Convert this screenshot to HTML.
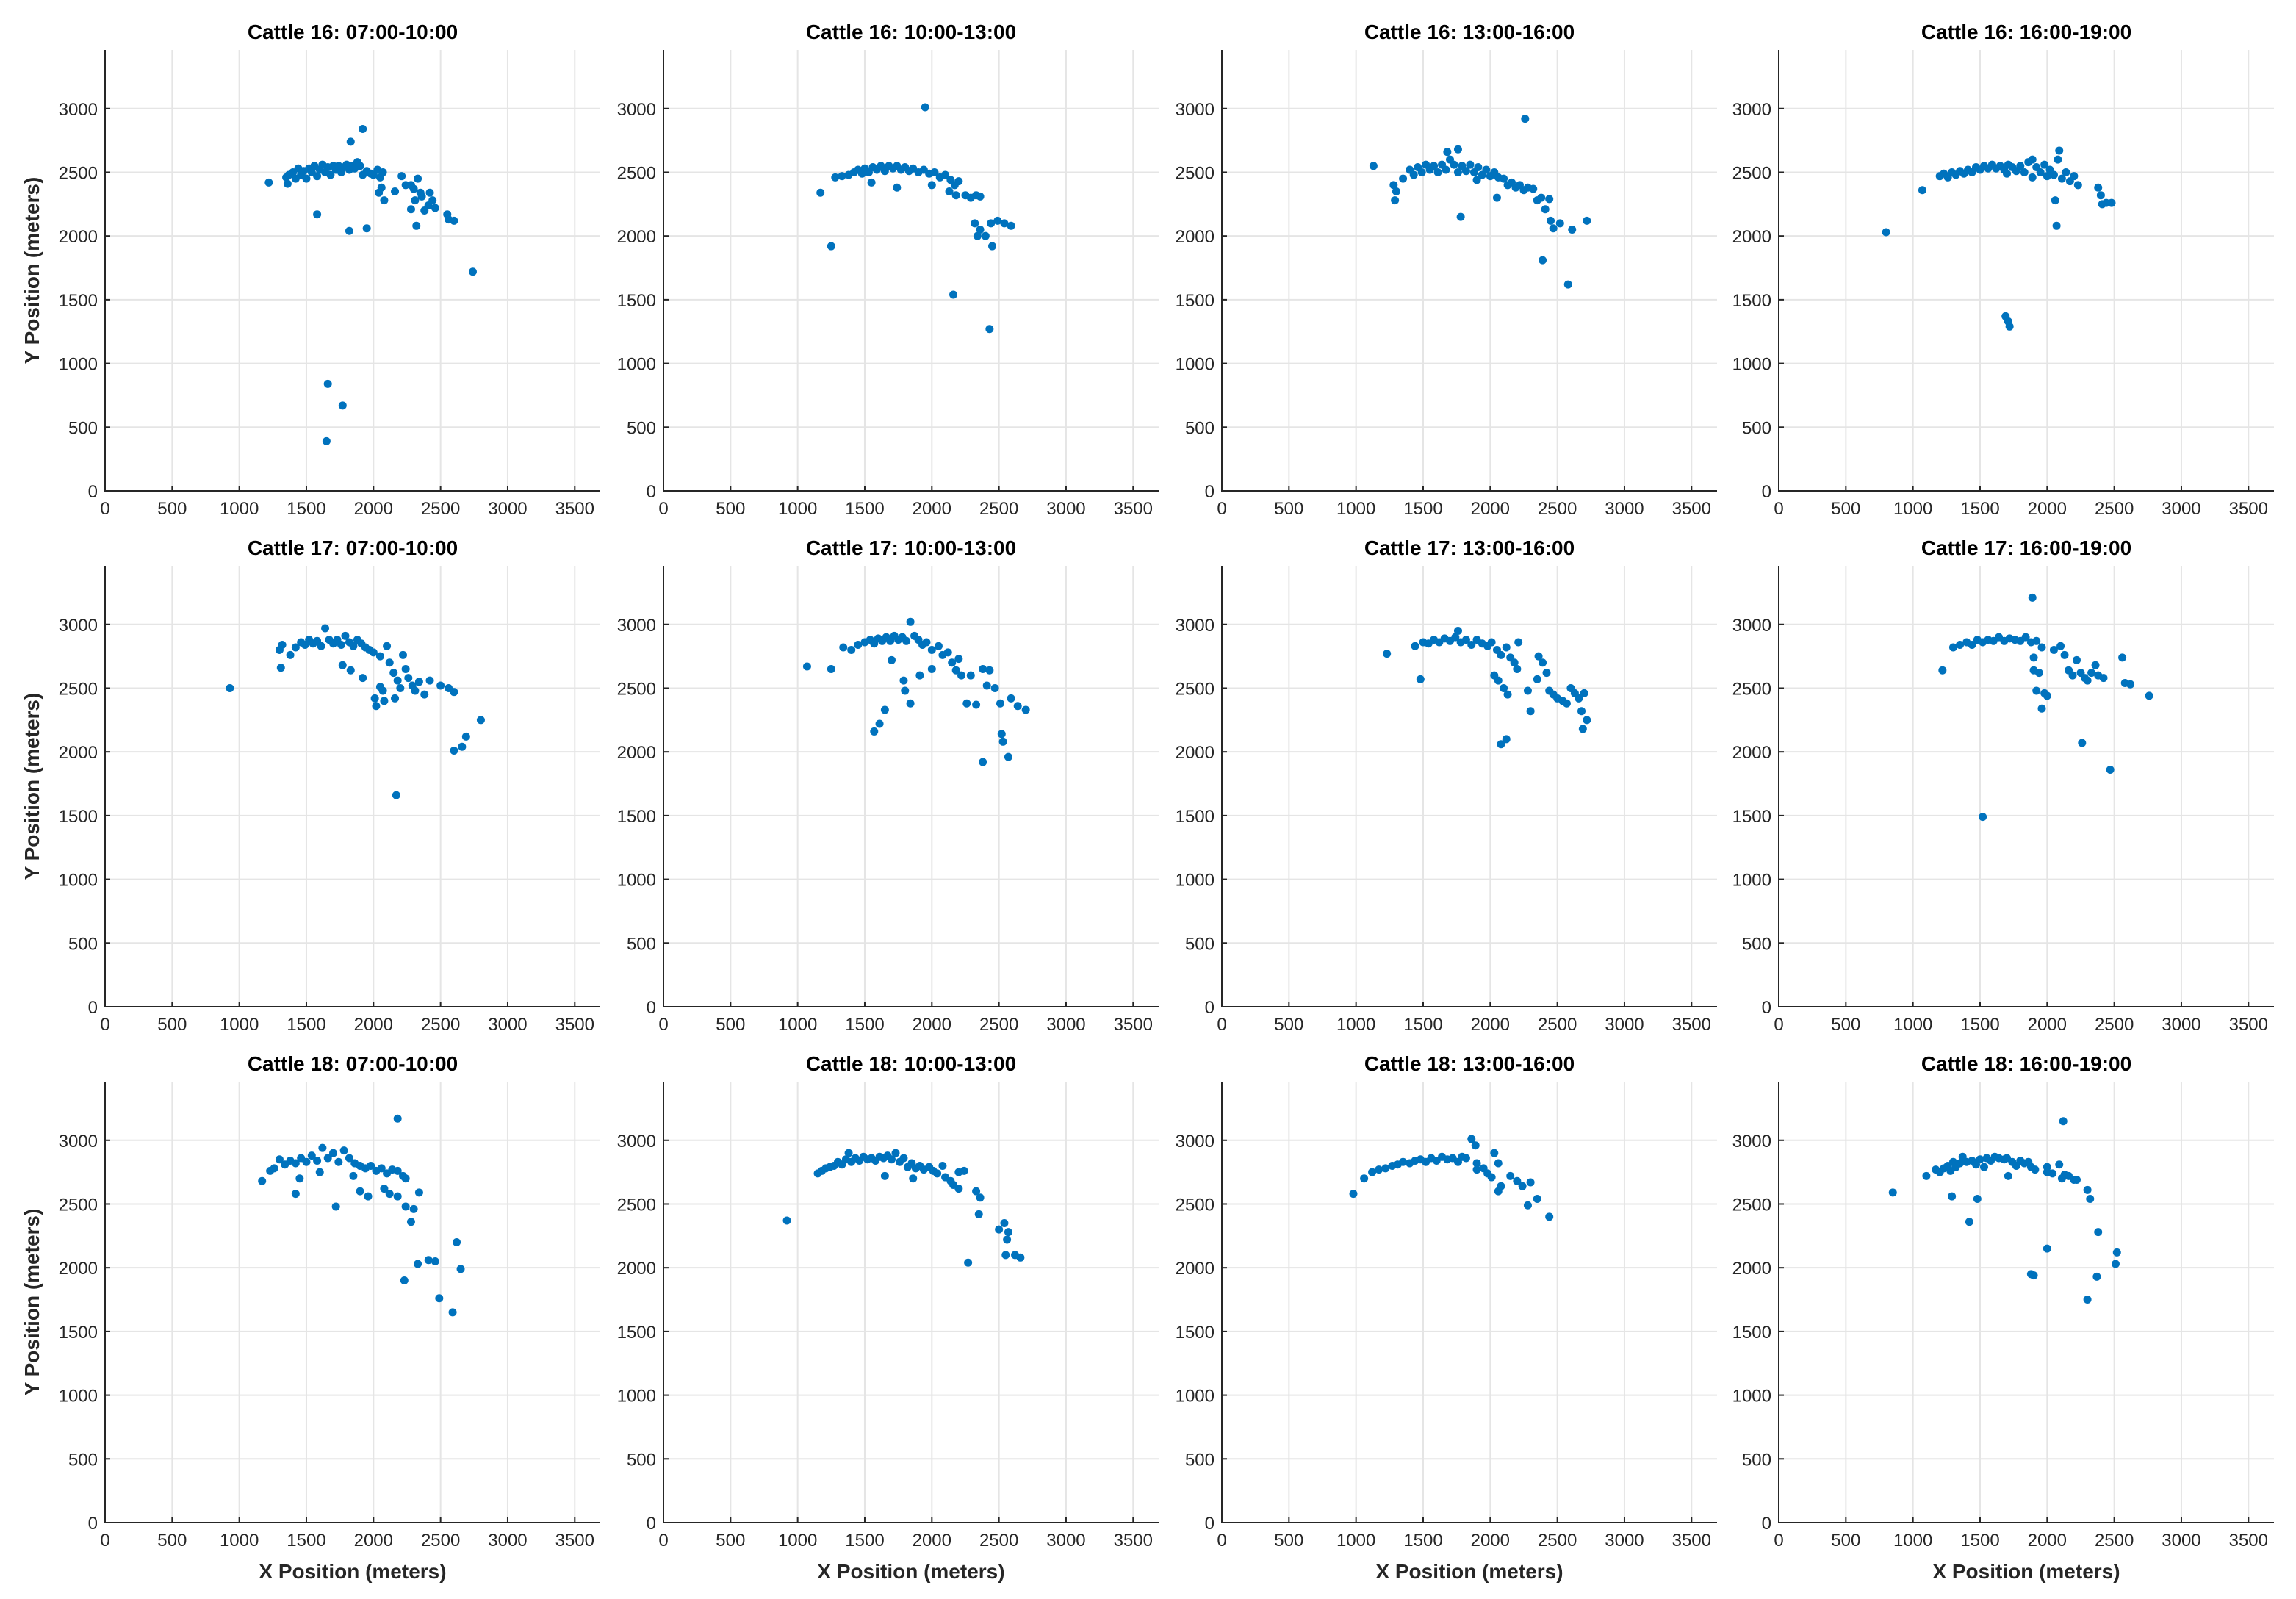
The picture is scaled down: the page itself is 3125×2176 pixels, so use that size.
<!DOCTYPE html>
<html><head><meta charset="utf-8"><style>
html,body{margin:0;padding:0;background:#fff}
svg{display:block;font-family:"Liberation Sans",sans-serif}
</style></head><body>
<svg id="chart" width="3125" height="2176" viewBox="0 0 3125 2176" xmlns="http://www.w3.org/2000/svg"></svg>
<script>
const cattleIds = [16,17,18];
const periods = ["07:00-10:00","10:00-13:00","13:00-16:00","16:00-19:00"];
const xTicks = [0,500,1000,1500,2000,2500,3000,3500];
const yTicks = [0,500,1000,1500,2000,2500,3000];
const p16a = [[1220,2420],[1350,2460],[1370,2480],[1360,2410],[1400,2500],[1420,2450],[1440,2530],[1460,2480],[1480,2510],[1500,2450],[1520,2530],[1540,2500],[1560,2550],[1580,2470],[1600,2520],[1620,2560],[1640,2500],[1660,2540],[1680,2480],[1700,2550],[1720,2520],[1740,2550],[1760,2500],[1780,2540],[1800,2560],[1820,2520],[1840,2550],[1860,2530],[1880,2580],[1900,2550],[1920,2480],[1950,2510],[1980,2490],[2000,2480],[2030,2520],[2050,2460],[2070,2500],[2060,2380],[2080,2280],[2040,2340],[2160,2350],[2210,2470],[2240,2400],[2280,2400],[2300,2370],[2310,2280],[2330,2450],[2350,2340],[2360,2310],[2280,2210],[2380,2200],[2410,2240],[2420,2340],[2440,2280],[2460,2220],[2320,2080],[2550,2170],[2560,2130],[2600,2120],[2740,1720],[1580,2170],[1820,2040],[1950,2060],[1830,2740],[1920,2840],[1660,840],[1770,670],[1650,390]];
const p16b = [[1170,2340],[1250,1920],[1280,2460],[1330,2470],[1380,2480],[1420,2500],[1450,2520],[1480,2490],[1500,2530],[1530,2500],[1560,2540],[1590,2520],[1620,2550],[1650,2510],[1680,2550],[1710,2530],[1740,2550],[1770,2520],[1800,2540],[1830,2510],[1860,2530],[1900,2500],[1940,2520],[1980,2490],[2020,2500],[2060,2460],[2100,2480],[2140,2440],[2170,2400],[2200,2430],[2130,2350],[2180,2320],[2250,2320],[2290,2300],[2330,2320],[2360,2310],[2320,2100],[2360,2050],[2340,2000],[2400,2000],[2440,2100],[2450,1920],[2490,2120],[2540,2100],[2590,2080],[1550,2420],[1740,2380],[1950,3010],[2160,1540],[2430,1270],[2000,2400]];
const p16c = [[1130,2550],[1280,2400],[1300,2350],[1290,2280],[1350,2450],[1400,2520],[1430,2480],[1460,2540],[1490,2500],[1520,2560],[1550,2520],[1580,2550],[1610,2500],[1640,2560],[1670,2520],[1700,2600],[1680,2660],[1760,2680],[1730,2560],[1760,2500],[1790,2550],[1820,2510],[1850,2560],[1880,2500],[1910,2540],[1940,2480],[1970,2520],[2000,2470],[2030,2500],[2060,2460],[2100,2450],[2130,2400],[2160,2420],[2190,2380],[2220,2400],[2250,2360],[2280,2380],[2320,2370],[2350,2280],[2380,2300],[2410,2210],[2440,2290],[2450,2120],[2470,2060],[2520,2100],[2610,2050],[2720,2120],[2390,1810],[2580,1620],[1780,2150],[2260,2920],[2050,2300],[1900,2440]];
const p16d = [[800,2030],[1070,2360],[1200,2470],[1230,2490],[1260,2460],[1290,2500],[1320,2480],[1350,2510],[1380,2490],[1410,2520],[1440,2500],[1470,2540],[1500,2520],[1530,2550],[1560,2530],[1590,2560],[1620,2530],[1650,2550],[1680,2520],[1710,2560],[1740,2540],[1770,2510],[1800,2550],[1830,2500],[1860,2580],[1890,2600],[1920,2540],[1950,2500],[1980,2560],[2000,2470],[2020,2520],[2050,2480],[2080,2600],[2090,2670],[2060,2280],[2070,2080],[2110,2450],[2140,2500],[2170,2430],[2200,2470],[2230,2400],[2380,2380],[2400,2320],[2410,2250],[2440,2260],[2480,2260],[1690,1370],[1710,1330],[1720,1290],[1890,2460],[1700,2490]];
const p17a = [[930,2500],[1300,2800],[1320,2840],[1310,2660],[1380,2760],[1420,2820],[1460,2860],[1490,2840],[1520,2880],[1550,2850],[1580,2870],[1610,2830],[1640,2970],[1670,2880],[1700,2850],[1730,2880],[1760,2840],[1790,2910],[1820,2860],[1850,2830],[1880,2880],[1910,2850],[1940,2820],[1970,2800],[2000,2780],[1770,2680],[1830,2640],[1920,2580],[2050,2750],[2100,2830],[2120,2700],[2150,2620],[2180,2560],[2200,2500],[2050,2510],[2070,2480],[2010,2420],[2020,2360],[2080,2400],[2160,2420],[2220,2760],[2240,2650],[2260,2580],[2290,2520],[2310,2480],[2340,2550],[2380,2450],[2420,2560],[2500,2520],[2560,2500],[2600,2470],[2600,2010],[2660,2040],[2690,2120],[2800,2250],[2170,1660]];
const p17b = [[1070,2670],[1250,2650],[1340,2820],[1400,2800],[1450,2840],[1500,2860],[1540,2880],[1570,2850],[1600,2890],[1630,2870],[1660,2900],[1690,2870],[1720,2910],[1750,2880],[1780,2900],[1810,2870],[1840,3020],[1870,2910],[1900,2880],[1930,2840],[1960,2860],[2000,2800],[2050,2830],[2080,2760],[2120,2780],[2150,2700],[2180,2640],[2200,2730],[2220,2600],[1700,2720],[1790,2560],[1800,2480],[1840,2380],[1910,2600],[2000,2650],[2260,2380],[2290,2600],[2330,2370],[2380,2650],[2410,2520],[2430,2640],[2470,2500],[2510,2380],[2520,2140],[2530,2080],[2590,2420],[2640,2360],[2700,2330],[2380,1920],[2570,1960],[1570,2160],[1610,2220],[1650,2330]];
const p17c = [[1230,2770],[1480,2570],[1440,2830],[1500,2860],[1540,2850],[1580,2880],[1620,2860],[1660,2890],[1700,2870],[1740,2900],[1760,2950],[1780,2860],[1820,2880],[1860,2840],[1900,2880],[1940,2850],[1980,2830],[2010,2860],[2050,2800],[2080,2760],[2120,2820],[2150,2740],[2180,2700],[2210,2860],[2030,2600],[2060,2560],[2100,2500],[2130,2450],[2280,2480],[2300,2320],[2360,2750],[2390,2700],[2420,2620],[2440,2480],[2470,2450],[2500,2420],[2540,2400],[2570,2380],[2600,2500],[2630,2460],[2660,2420],[2680,2320],[2700,2460],[2690,2180],[2720,2250],[2080,2060],[2120,2100],[2200,2650],[2350,2570]];
const p17d = [[1220,2640],[1300,2820],[1350,2840],[1400,2860],[1440,2840],[1480,2880],[1520,2860],[1560,2880],[1600,2870],[1640,2900],[1680,2870],[1720,2890],[1760,2880],[1800,2870],[1840,2900],[1880,2860],[1920,2870],[1960,2820],[1890,3210],[1900,2740],[1900,2640],[1940,2620],[1920,2480],[1980,2460],[1960,2340],[2000,2440],[2050,2800],[2100,2830],[2130,2760],[2160,2640],[2190,2600],[2220,2720],[2250,2620],[2280,2580],[2300,2560],[2330,2620],[2360,2680],[2380,2600],[2420,2580],[2560,2740],[2580,2540],[2620,2530],[2760,2440],[2260,2070],[2470,1860],[1520,1490]];
const p18a = [[1170,2680],[1230,2760],[1260,2780],[1300,2850],[1340,2810],[1380,2840],[1420,2820],[1460,2860],[1500,2830],[1540,2880],[1580,2840],[1620,2940],[1660,2860],[1700,2900],[1740,2830],[1780,2920],[1820,2860],[1860,2820],[1900,2800],[1940,2780],[1980,2800],[2020,2760],[2060,2780],[2100,2740],[2140,2770],[2180,2760],[2220,2720],[2240,2700],[1420,2580],[1450,2700],[1600,2750],[1720,2480],[1850,2720],[1900,2600],[1960,2560],[2080,2620],[2120,2580],[2180,2560],[2240,2480],[2300,2460],[2340,2590],[2280,2360],[2330,2030],[2410,2060],[2460,2050],[2490,1760],[2590,1650],[2620,2200],[2650,1990],[2230,1900],[2180,3170]];
const p18b = [[920,2370],[1150,2740],[1180,2760],[1210,2780],[1240,2790],[1270,2800],[1300,2830],[1330,2810],[1360,2850],[1380,2900],[1400,2830],[1430,2860],[1460,2840],[1490,2870],[1520,2850],[1550,2860],[1580,2840],[1610,2870],[1640,2860],[1670,2880],[1700,2850],[1730,2900],[1760,2830],[1790,2860],[1820,2790],[1850,2820],[1880,2780],[1910,2800],[1940,2770],[1980,2790],[2010,2760],[2040,2740],[2080,2800],[2100,2710],[2140,2680],[2160,2650],[2200,2620],[2240,2760],[1650,2720],[1860,2700],[2200,2750],[2330,2600],[2360,2550],[2350,2420],[2500,2300],[2540,2350],[2560,2220],[2570,2280],[2550,2100],[2620,2100],[2660,2080],[2270,2040]];
const p18c = [[980,2580],[1060,2700],[1120,2750],[1170,2770],[1220,2780],[1270,2800],[1310,2810],[1350,2830],[1400,2820],[1440,2840],[1480,2850],[1520,2830],[1560,2860],[1600,2840],[1640,2870],[1680,2850],[1720,2860],[1760,2830],[1790,2870],[1820,2860],[1860,3010],[1890,2960],[1900,2820],[1950,2780],[1980,2740],[2010,2710],[2030,2900],[2060,2820],[2080,2640],[2060,2600],[2150,2720],[2200,2680],[2240,2640],[2280,2490],[2300,2670],[2350,2540],[2440,2400],[1900,2770]];
const p18d = [[850,2590],[1100,2720],[1170,2770],[1200,2750],[1230,2780],[1260,2800],[1280,2760],[1300,2830],[1320,2790],[1350,2820],[1370,2870],[1400,2830],[1440,2840],[1470,2810],[1500,2850],[1530,2790],[1550,2860],[1580,2840],[1610,2870],[1640,2860],[1680,2850],[1700,2860],[1740,2830],[1770,2800],[1800,2840],[1830,2820],[1860,2830],[1880,2790],[1910,2770],[2000,2790],[2000,2750],[2040,2740],[2090,2810],[2110,2700],[2130,2730],[2160,2720],[2200,2690],[2220,2690],[1710,2720],[1290,2560],[1480,2540],[1420,2360],[2120,3150],[2300,2610],[2320,2540],[2380,2280],[2000,2150],[2520,2120],[2510,2030],[2370,1930],[1880,1950],[1900,1940],[2300,1750]];
const series = [[p16a,p16b,p16c,p16d],[p17a,p17b,p17c,p17d],[p18a,p18b,p18c,p18d]];

const NS="http://www.w3.org/2000/svg";
const svg=document.getElementById('chart');
const colL=[143,903,1663,2421], rowT=[68,770,1472];
const W=674, H=600, XMAX=3690, YMAX=3460;
function mk(tag,attrs,parent){const e=document.createElementNS(NS,tag);for(const k in attrs)e.setAttribute(k,attrs[k]);(parent||svg).appendChild(e);return e;}
for(let r=0;r<3;r++){for(let c=0;c<4;c++){
  const L=colL[c],T=rowT[r],B=T+H;
  const sx=v=>L+v/XMAX*W, sy=v=>B-v/YMAX*H;
  const g=mk('g',{});
  
  
  xTicks.forEach(t=>{const l=mk('line',{x1:sx(t),x2:sx(t),y1:T,y2:B,stroke:'#e5e5e5','stroke-width':2},g);
    
    mk('line',{x1:sx(t),x2:sx(t),y1:B,y2:B-7,stroke:'#262626','stroke-width':2},g);
    const tx=mk('text',{x:sx(t),y:B+32,'text-anchor':'middle','font-size':24,fill:'#262626'},g);tx.textContent=t;
    });
  yTicks.forEach(t=>{const l=mk('line',{x1:L,x2:L+W,y1:sy(t),y2:sy(t),stroke:'#e5e5e5','stroke-width':2},g);
    
    mk('line',{x1:L,x2:L+7,y1:sy(t),y2:sy(t),stroke:'#262626','stroke-width':2},g);
    const tx=mk('text',{x:L-10,y:sy(t)+9,'text-anchor':'end','font-size':24,fill:'#262626'},g);tx.textContent=t;
    });
  const ax=mk('path',{d:`M${L},${T}V${B}H${L+W}`,fill:'none',stroke:'#262626','stroke-width':2},g);
  
  series[r][c].forEach(p=>{const d=mk('circle',{cx:sx(p[0]),cy:sy(p[1]),r:5.5,fill:'#0072BD'},g);
    });
  const ti=mk('text',{x:L+W/2,y:T-15,'text-anchor':'middle','font-size':28,'font-weight':'bold',fill:'#000'},g);
  ti.textContent='Cattle '+cattleIds[r]+': '+periods[c];
  
  if(c===0){const yl=mk('text',{x:0,y:0,'text-anchor':'middle','font-size':28,'font-weight':'bold',fill:'#262626',transform:`translate(53,${T+H/2}) rotate(-90)`},g);
    yl.textContent='Y Position (meters)';}
  if(r===2){const xl=mk('text',{x:L+W/2,y:B+76,'text-anchor':'middle','font-size':28,'font-weight':'bold',fill:'#262626'},g);
    xl.textContent='X Position (meters)';}
}}
</script>
</body></html>
